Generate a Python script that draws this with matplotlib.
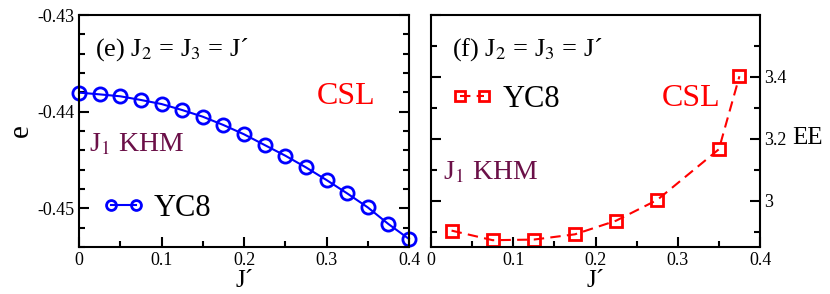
import matplotlib
matplotlib.use("Agg")
import matplotlib.pyplot as plt
from matplotlib.ticker import MultipleLocator, FixedLocator
import numpy as np

plt.rcParams['font.family'] = ['Liberation Serif', 'DejaVu Serif']
plt.rcParams['mathtext.fontset'] = 'stix'

# panel (e): energy
jp_e = [0.0, 0.025, 0.05, 0.075, 0.1, 0.125, 0.15, 0.175, 0.2, 0.225,
        0.25, 0.275, 0.3, 0.325, 0.35, 0.375, 0.4]
energy = [-0.43803, -0.43821, -0.43841, -0.43879, -0.43921, -0.43983,
          -0.44052, -0.44138, -0.44234, -0.44345, -0.44455, -0.44576,
          -0.44707, -0.44845, -0.44990, -0.45162, -0.45317]

# panel (f): entanglement entropy
jp_f = [0.025, 0.075, 0.125, 0.175, 0.225, 0.275, 0.35, 0.375]
ee = [2.903, 2.872, 2.874, 2.891, 2.935, 3.002, 3.166, 3.402]

blue = '#0000ff'
red = '#ff0000'
maroon = '#6b1048'

fig = plt.figure(figsize=(8.3, 2.94), dpi=100)
ax1 = fig.add_axes([79/830, 1-247/294, 330/830, 232/294])
ax2 = fig.add_axes([431/830, 1-247/294, 329/830, 232/294])

for ax in (ax1, ax2):
    for s in ax.spines.values():
        s.set_linewidth(1.5)
    ax.tick_params(which='both', direction='in', width=1.5, top=False)
    ax.tick_params(which='major', length=7, labelsize=13)
    ax.tick_params(which='minor', length=4)
    ax.set_xlim(0, 0.4)
    ax.xaxis.set_major_locator(MultipleLocator(0.1))
    ax.xaxis.set_minor_locator(MultipleLocator(0.05))
    ax.set_xticks([0, 0.1, 0.2, 0.3, 0.4])
    ax.set_xticklabels(['0', '0.1', '0.2', '0.3', '0.4'])
    ax.set_xlabel('J´', fontsize=18, labelpad=1)

# left panel
ax1.plot(jp_e, energy, '-', color=blue, lw=1.5, marker='o', ms=9.5,
         mfc='none', mec=blue, mew=2, label='YC8', clip_on=False)
ax1.set_ylim(-0.454, -0.43)
ax1.yaxis.set_major_locator(FixedLocator([-0.45, -0.44, -0.43]))
ax1.yaxis.set_minor_locator(MultipleLocator(0.002))
ax1.set_yticklabels(['-0.45', '-0.44', '-0.43'])
ax1.tick_params(axis='y', which='both', right=True)
ax1.set_ylabel('e', fontsize=21, labelpad=2)
ax1.text(0.048, 0.85, '(e) J$_2$ = J$_3$ = J´', transform=ax1.transAxes,
         fontsize=19, va='center', ha='left')
ax1.text(0.81, 0.647, 'CSL', transform=ax1.transAxes, color=red,
         fontsize=23, va='center', ha='center')
ax1.text(0.03, 0.44, 'J$_1$ KHM', transform=ax1.transAxes, color=maroon,
         fontsize=20, va='center', ha='left')
ax1.legend(loc='center left', bbox_to_anchor=(0.07, 0.168),
           frameon=False, fontsize=22, numpoints=2, markerscale=0.75,
           handlelength=1.4, handletextpad=0.3, borderpad=0,
           borderaxespad=0)

# right panel
ax2.plot(jp_f, ee, '--', color=red, lw=1.5, dashes=(5, 3), marker='s',
         ms=8.5, mfc='none', mec=red, mew=2, label='YC8', clip_on=False)
ax2.set_ylim(2.85, 3.6)
ax2.yaxis.set_major_locator(FixedLocator([3.0, 3.2, 3.4, 3.6]))
ax2.yaxis.set_minor_locator(MultipleLocator(0.1))
ax2.set_yticklabels(['3', '3.2', '3.4', ''])
ax2.tick_params(axis='y', which='both', left=True, right=True,
                labelleft=False, labelright=True, pad=3)
ax2.text(1.097, 0.47, 'EE', transform=ax2.transAxes, fontsize=18,
         va='center', ha='left')
ax2.text(0.064, 0.85, '(f) J$_2$ = J$_3$ = J´', transform=ax2.transAxes,
         fontsize=19, va='center', ha='left')
ax2.text(0.79, 0.64, 'CSL', transform=ax2.transAxes, color=red,
         fontsize=23, va='center', ha='center')
ax2.text(0.037, 0.32, 'J$_1$ KHM', transform=ax2.transAxes, color=maroon,
         fontsize=20, va='center', ha='left')
ax2.legend(loc='center left', bbox_to_anchor=(0.06, 0.635),
           frameon=False, fontsize=22, numpoints=2, markerscale=0.85,
           handlelength=1.4, handletextpad=0.3, borderpad=0,
           borderaxespad=0)

fig.savefig('out.png', dpi=100)
